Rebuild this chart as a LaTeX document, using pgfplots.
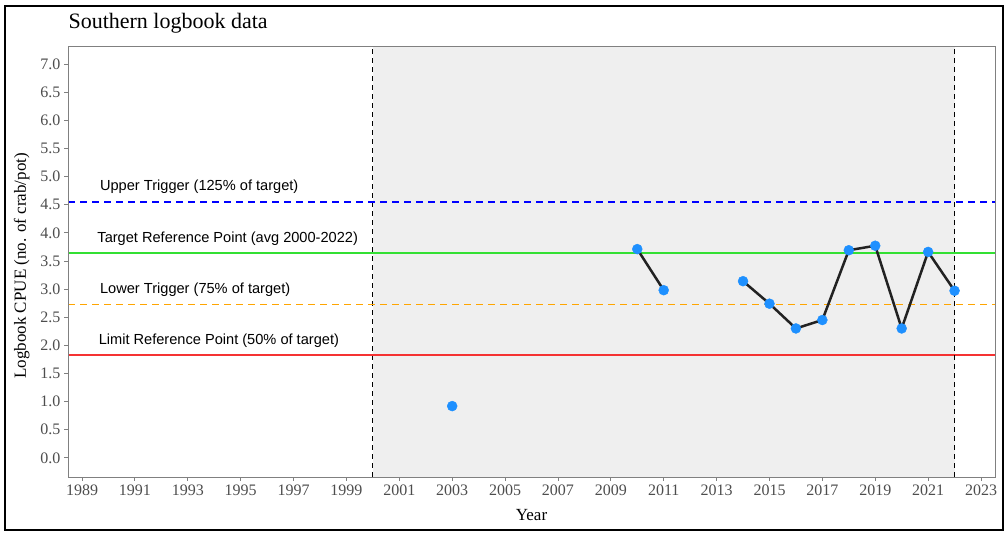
\documentclass[border=0pt]{standalone}
\usepackage{fontspec}
\setmainfont{Liberation Serif}
\newfontfamily\annfont{Liberation Sans}
\usepackage{pgfplots}
\pgfplotsset{compat=1.18}
\usepackage{pgfplotstable}

\definecolor{ptblue}{RGB}{30,144,255}
\definecolor{periodfill}{RGB}{239,239,239}
\definecolor{tickgray}{RGB}{77,77,77}
\definecolor{framegray}{RGB}{128,128,128}
\definecolor{targetcol}{RGB}{51,224,51}
\definecolor{lowercol}{RGB}{255,165,0}
\definecolor{limitcol}{RGB}{245,50,50}
\definecolor{linecol}{RGB}{34,34,34}

% Southern logbook CPUE by year (nan = no data, breaks the line)
\pgfplotstableread{
year cpue
2003 0.92
2004 nan
2010 3.71
2011 2.98
2012 nan
2014 3.14
2015 2.74
2016 2.30
2017 2.45
2018 3.69
2019 3.77
2020 2.30
2021 3.66
2022 2.97
}\logbook

\begin{document}
\begin{tikzpicture}[x=1pt,y=1pt]
\useasboundingbox (0,0) rectangle (1008,534);
\draw[line width=2pt] (5,4) rectangle (1003,528);
\node[anchor=west,font=\fontsize{22}{25}\selectfont] at (65,511) {Southern logbook data};
\begin{axis}[
  at={(68pt,57pt)}, anchor=south west,
  scale only axis, width=927pt, height=431pt,
  xmin=1988.47, xmax=2023.53,
  ymin=-0.34, ymax=7.32,
  xtick={1989,1991,...,2023},
  ytick={0,0.5,...,7},
  x tick label style={/pgf/number format/1000 sep={}},
  y tick label style={/pgf/number format/.cd,fixed,fixed zerofill,precision=1},
  /pgf/number format/assume math mode=true,
  tick label style={font=\fontsize{16}{18}\selectfont, text=tickgray},
  tick align=outside, tick pos=left,
  major tick length=4pt,
  every tick/.style={framegray, line width=0.8pt},
  axis line style={framegray, line width=0.8pt},
  xlabel={Year}, ylabel={Logbook CPUE (no. of crab/pot)},
  label style={font=\fontsize{17}{19}\selectfont},
  xlabel style={at={(axis description cs:0.5,-0.088)}, anchor=center},
  ylabel style={at={(axis description cs:-0.05,0.49)}, anchor=center},
  clip=true,
  unbounded coords=jump,
]
% assessment period shading
\fill[periodfill] (axis cs:2000,-0.34) rectangle (axis cs:2022,7.32);
% period boundaries
\draw[black, line width=1.2pt, dash pattern=on 5pt off 4pt] (axis cs:2000,-0.34) -- (axis cs:2000,7.32);
% reference points and triggers
\addplot[color=blue, line width=1.4pt, dash pattern=on 7pt off 5pt] coordinates {(1988.47,4.55) (2023.53,4.55)};
\addplot[color=targetcol, line width=1.3pt] coordinates {(1988.47,3.64) (2023.53,3.64)};
\addplot[color=lowercol, line width=1.3pt, dash pattern=on 7pt off 5pt] coordinates {(1988.47,2.73) (2023.53,2.73)};
\addplot[color=limitcol, line width=2pt] coordinates {(1988.47,1.82) (2023.53,1.82)};
\node[anchor=west, font=\annfont\fontsize{14.6}{16}\selectfont] at (axis cs:1989.55,4.81) {Upper Trigger (125\% of target)};
\node[anchor=west, font=\annfont\fontsize{14.6}{16}\selectfont] at (axis cs:1989.45,3.89) {Target Reference Point (avg 2000-2022)};
\node[anchor=west, font=\annfont\fontsize{14.6}{16}\selectfont] at (axis cs:1989.55,2.98) {Lower Trigger (75\% of target)};
\node[anchor=west, font=\annfont\fontsize{14.6}{16}\selectfont] at (axis cs:1989.5,2.08) {Limit Reference Point (50\% of target)};
% series
\addplot[linecol, line width=2.5pt, no marks] table[x=year,y=cpue] {\logbook};
\addplot[only marks, mark=*, mark size=5pt, mark options={draw=ptblue, fill=ptblue}] table[x=year,y=cpue] {\logbook};
\draw[black, line width=1.2pt, dash pattern=on 5pt off 4pt] (axis cs:2022,-0.34) -- (axis cs:2022,7.32);
% panel border
\draw[framegray, line width=0.8pt] (rel axis cs:0,0) rectangle (rel axis cs:1,1);
\end{axis}
\end{tikzpicture}
\end{document}
